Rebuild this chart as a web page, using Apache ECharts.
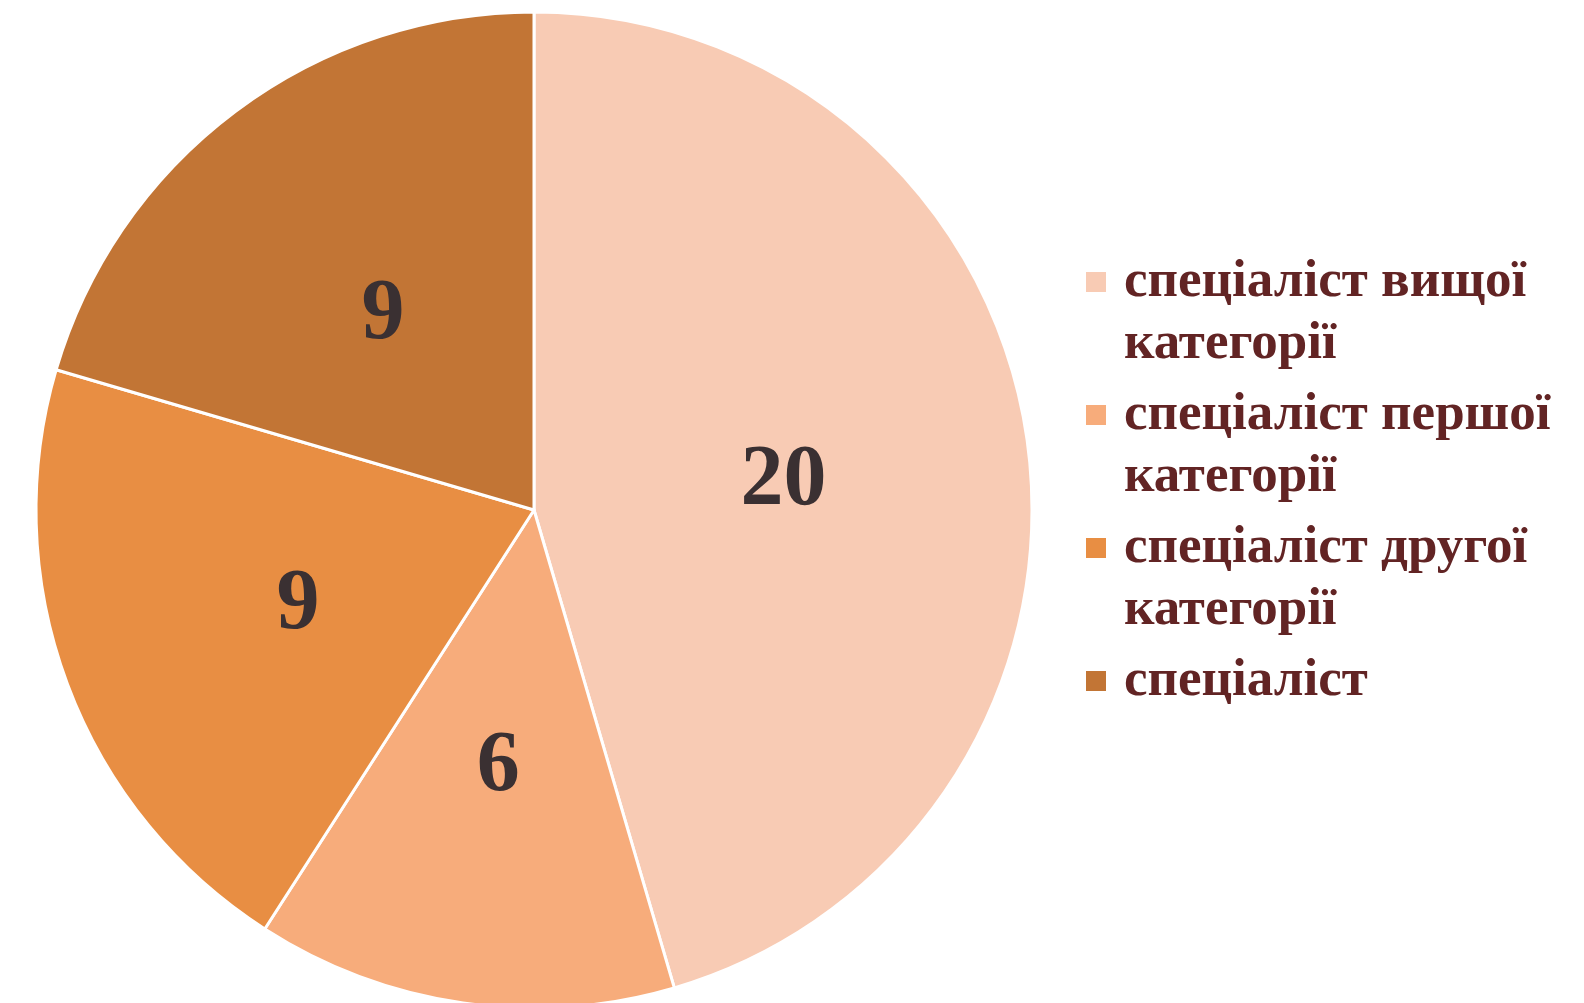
<!DOCTYPE html>
<html>
<head>
<meta charset="utf-8">
<script src="https://cdn.jsdelivr.net/npm/echarts@6/dist/echarts.min.js"></script>
<style>
  html, body { margin: 0; padding: 0; background: #fff; }
  #chart { width: 1584px; height: 1003px; }
</style>
</head>
<body>
<div id="chart"></div>
<script>
// категорії та значення
const categories = [
  'спеціаліст вищої\nкатегорії',
  'спеціаліст першої\nкатегорії',
  'спеціаліст другої\nкатегорії',
  'спеціаліст'
]
const values = [20, 6, 9, 9]
const colors = ['#F8CBB4', '#F7AC7B', '#E88E43', '#C27535']

const chart = echarts.init(document.getElementById('chart'))

const pieData = categories.map((name, i) => {
  return { name: name, value: values[i], itemStyle: { color: colors[i] } }
})

chart.setOption({
  animation: false,
  legend: {
    orient: 'vertical',
    left: 1084,
    top: 189,
    padding: 0,
    itemWidth: 22,
    itemHeight: 22,
    itemGap: -53,
    icon: 'rect',
    selectedMode: false,
    data: categories,
    // маркер стоїть навпроти першого рядка: кожен підпис має 3 рядки, середній - перший рядок назви
    formatter: function(name) {
      return name.indexOf('\n') >= 0 ? '\n' + name : '\n' + name + '\n'
    },
    textStyle: {
      fontFamily: '"Liberation Serif", "Times New Roman", serif',
      fontWeight: 'bold',
      fontSize: 53,
      lineHeight: 62,
      padding: [0, 0, 0, 12],
      color: '#622424'
    }
  },
  series: [
    {
      type: 'pie',
      center: [534, 510],
      radius: 498,
      startAngle: 90,
      clockwise: true,
      data: pieData,
      itemStyle: { borderColor: '#ffffff', borderWidth: 3 },
      label: {
        show: true,
        position: 'inside',
        formatter: '{c}',
        offset: [0, 8],
        fontFamily: '"Liberation Serif", "Times New Roman", serif',
        fontWeight: 'bold',
        fontSize: 86,
        color: '#3A3032'
      },
      labelLine: { show: false },
      emphasis: { disabled: true }
    }
  ]
})
</script>
</body>
</html>
